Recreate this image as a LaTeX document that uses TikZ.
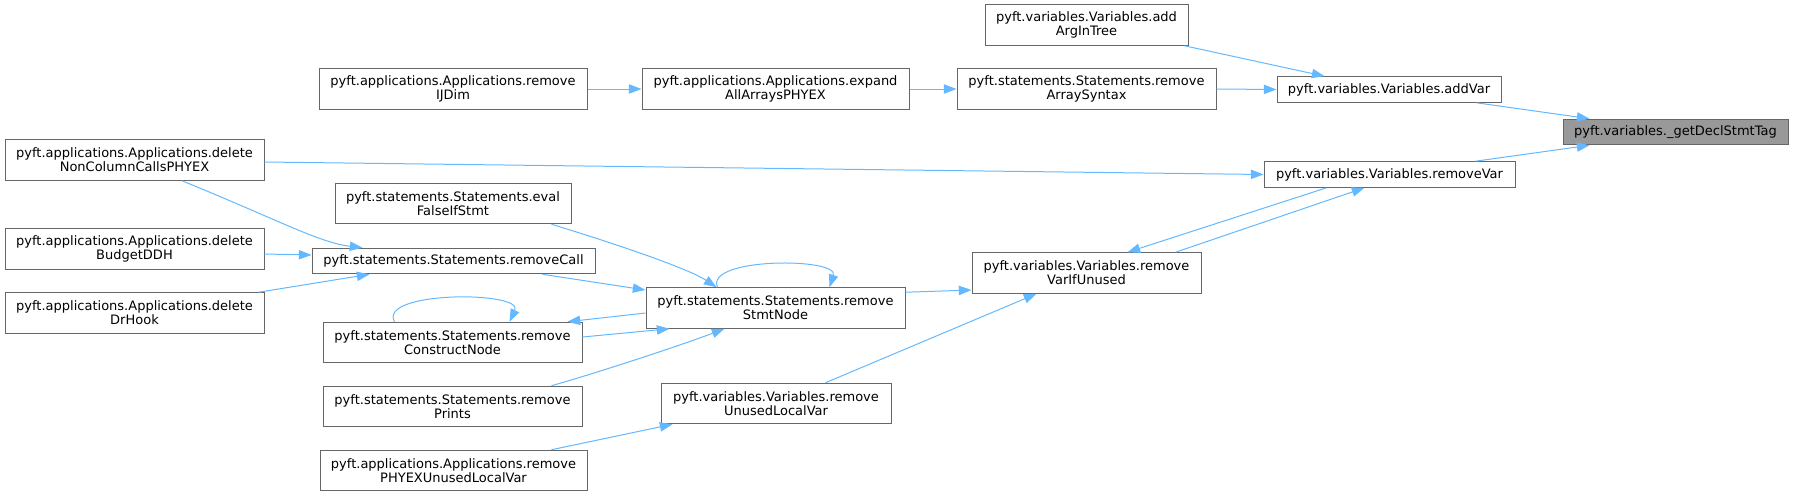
\documentclass[tikz,border=0pt]{standalone}
\usepackage{fontspec}
\setmainfont{DejaVu Sans}
\usetikzlibrary{arrows.meta,calc}
\definecolor{edgeblue}{HTML}{63B8FF}
\definecolor{boxgrey}{HTML}{666666}
\definecolor{rootfill}{HTML}{999999}
\begin{document}
\begin{tikzpicture}[x=0.75pt,y=-0.75pt,
 box/.style={draw=boxgrey,line width=0.75pt,fill=white,inner sep=0pt,align=center,font=\fontsize{9.75pt}{10.5pt}\selectfont,text=black},
 bw/.style={minimum width=#1*0.75pt},
 two/.style={minimum height=30.4pt},
 one/.style={minimum height=19.2pt},
 root/.style={fill=rootfill},
 edge/.style={draw=edgeblue,line width=0.75pt,-{Triangle[length=9.5pt,width=7pt]}}]
\useasboundingbox (0,0) rectangle (1793,496);

\node[box,two,bw=203] (argintree) at (1086.5,25) {pyft.variables.Variables.add\\ArgInTree};
\node[box,two,bw=268] (ijdim) at (453,89) {pyft.applications.Applications.remove\\IJDim};
\node[box,two,bw=267] (expand) at (775.5,89) {pyft.applications.Applications.expand\\AllArraysPHYEX};
\node[box,two,bw=259] (arrsyn) at (1086.5,89) {pyft.statements.Statements.remove\\ArraySyntax};
\node[box,one,bw=224] (addvar) at (1389,89.5) {pyft.variables.Variables.addVar};
\node[box,one,bw=225,root] (decl) at (1675.5,132) {pyft.variables.\_getDeclStmtTag};
\node[box,two,bw=259] (nocol) at (134.5,160) {pyft.applications.Applications.delete\\NonColumnCallsPHYEX};
\node[box,one,bw=251] (remvar) at (1389.5,174.5) {pyft.variables.Variables.removeVar};
\node[box,two,bw=236] (evalf) at (453,203.5) {pyft.statements.Statements.eval\\FalseIfStmt};
\node[box,two,bw=259] (budget) at (134.5,249) {pyft.applications.Applications.delete\\BudgetDDH};
\node[box,one,bw=283] (remcall) at (453.5,261) {pyft.statements.Statements.removeCall};
\node[box,two,bw=259] (stmt) at (775.5,308) {pyft.statements.Statements.remove\\StmtNode};
\node[box,two,bw=229] (ifunused) at (1086.5,273) {pyft.variables.Variables.remove\\VarIfUnused};
\node[box,two,bw=259] (drhook) at (134.5,313) {pyft.applications.Applications.delete\\DrHook};
\node[box,two,bw=259] (construct) at (452.5,342.5) {pyft.statements.Statements.remove\\ConstructNode};
\node[box,two,bw=259] (prints) at (452.5,406.5) {pyft.statements.Statements.remove\\Prints};
\node[box,two,bw=230] (unusedlocal) at (776,403.5) {pyft.variables.Variables.remove\\UnusedLocalVar};
\node[box,two,bw=267] (phyexunused) at (453.5,470.5) {pyft.applications.Applications.remove\\PHYEXUnusedLocalVar};

\draw[edge] ($(argintree.south east)+(-4,0)$) -- ($(addvar.north west)+(48,0)$);
\draw[edge] (ijdim) -- (expand);
\draw[edge] (expand) -- (arrsyn);
\draw[edge] (arrsyn.east) -- (addvar.west);
\draw[edge] ($(addvar.south east)+(-25,0)$) -- ($(decl.north west)+(27,0)$);
\draw[edge] ($(remvar.north east)+(-40,0)$) -- ($(decl.south west)+(27,0)$);
\draw[edge] ($(nocol.east)+(0,2)$) -- (remvar.west);
\draw[edge] ($(nocol.south)+(47.5,0)$) .. controls +(98,40) and +(-43,-5) .. ($(remcall.north west)+(51,0)$);
\draw[edge] ($(budget.east)+(0,5)$) -- ($(remcall.west)+(0,-6)$);
\draw[edge] ($(drhook.north east)+(-6,0)$) -- ($(remcall.south west)+(58,0)$);
\draw[edge] ($(remcall.south east)+(-53,0)$) -- ($(stmt.west)+(0,-18)$);
\draw[edge] ($(evalf.south east)+(-20,0)$) .. controls +(69,21) and +(-27,-18) .. ($(stmt.north west)+(71,0)$);
\draw[edge] ($(stmt.north west)+(72,0)$) .. controls +(-13,-30) and +(10,-30) .. ($(stmt.north west)+(184,0)$);
\draw[edge] ($(stmt.west)+(0,5)$) -- ($(construct.north east)+(-15,0)$);
\draw[edge] ($(construct.east)+(0,-5.5)$) -- ($(stmt.south west)+(24,0)$);
\draw[edge] ($(construct.north west)+(72,0)$) .. controls +(-17,-31) and +(15,-31) .. ($(construct.north west)+(187,0)$);
\draw[edge] ($(prints.north east)+(-31,0)$) .. controls +(49,-14) and +(-45,17) .. ($(stmt.south west)+(79,0)$);
\draw[edge] ($(stmt.north east)+(0,5)$) -- ($(ifunused.west)+(0,17)$);
\draw[edge] ($(ifunused.north east)+(-26,0)$) -- ($(remvar.south west)+(101,0)$);
\draw[edge] ($(remvar.south west)+(63,0)$) -- ($(ifunused.north west)+(156,0)$);
\draw[edge] ($(unusedlocal.north west)+(165,0)$) -- ($(ifunused.south west)+(65,0)$);
\draw[edge] ($(phyexunused.north east)+(-36,0)$) -- ($(unusedlocal.south west)+(12,0)$);
\end{tikzpicture}
\end{document}
